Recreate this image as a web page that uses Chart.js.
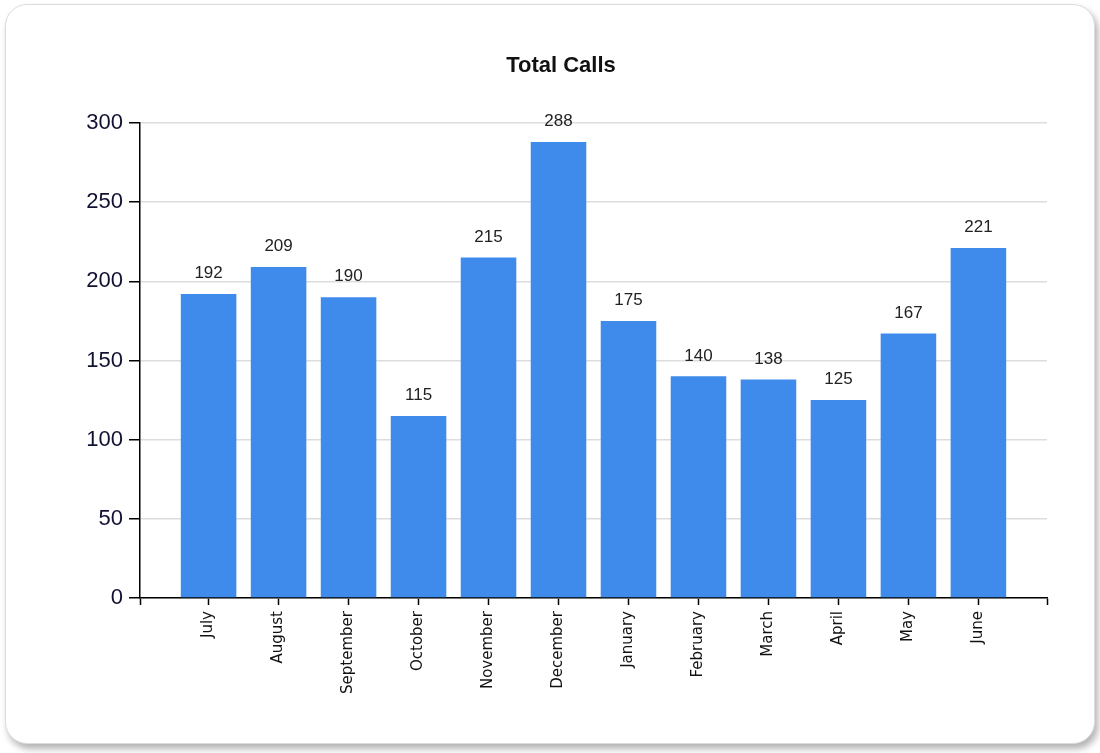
<!DOCTYPE html>
<html>
<head>
<meta charset="utf-8">
<title>Total Calls</title>
<script src="https://cdn.jsdelivr.net/npm/chart.js@4.4.1/dist/chart.umd.min.js"></script>
<style>
    body { margin: 0; background: #ffffff; }
    #wrap { position: relative; width: 1100px; height: 753px; overflow: hidden; }
    #card {
        position: absolute; left: 5px; top: 4px; width: 1088px; height: 738px;
        border: 1px solid #dcdcdc; border-radius: 22px; background: #ffffff;
        box-shadow: 3px 5px 7px rgba(0, 0, 0, 0.3);
    }
    #callsChart { position: absolute; left: 0; top: 0; }
</style>
</head>
<body>
<div id="wrap">
    <div id="card"></div>
    <canvas id="callsChart" width="1100" height="753"></canvas>
</div>
<script>
// Months of the year (July to June)
let months = [
    "July", "August", "September", "October", "November", "December",
    "January", "February", "March", "April", "May", "June"
];

// Number of calls per month
let calls = [192, 209, 190, 115, 215, 288, 175, 140, 138, 125, 167, 221];

// Y axis ticks
let yTicks = [0, 50, 100, 150, 200, 250, 300];

const chartTitle = 'Total Calls';
const barColor = '#3f8beb';

// Plugin that writes the value above each bar, and the title
const valueLabels = {
    id: 'valueLabels',
    afterDatasetsDraw(chart) {
        const ctx = chart.ctx;
        const meta = chart.getDatasetMeta(0);
        ctx.save();
        ctx.font = '17px "Liberation Sans", Arial, sans-serif';
        ctx.fillStyle = '#222222';
        ctx.textAlign = 'center';
        ctx.textBaseline = 'bottom';
        meta.data.forEach(function(bar, i) {
            ctx.fillText(calls[i], bar.x, bar.y - 12);
        });

        // Title (slightly left of the plot centre, like the original)
        ctx.font = 'bold 22px "Liberation Sans", Arial, sans-serif';
        ctx.fillStyle = '#111111';
        ctx.textBaseline = 'middle';
        ctx.fillText(chartTitle, 561, 66);
        ctx.restore();
    }
};

function createBarChart() {
    const ctx = document.getElementById('callsChart').getContext('2d');

    window.callsChart = new Chart(ctx, {
        type: 'bar',
        data: {
            datasets: [{
                label: chartTitle,
                data: months.map(function(m, i) { return { x: i, y: calls[i] }; }),
                backgroundColor: barColor,
                borderWidth: 0,
                barPercentage: 0.81,
                categoryPercentage: 1
            }]
        },
        options: {
            responsive: false,
            animation: false,
            devicePixelRatio: 1,
            layout: { padding: { left: 0, right: 53, top: 123, bottom: 0 } },
            plugins: {
                legend: { display: false },
                tooltip: { enabled: false },
                title: { display: false }
            },
            scales: {
                x: {
                    type: 'linear',
                    min: -0.98,
                    max: 11.98,
                    offset: false,
                    afterFit: function(scale) { scale.height = 155; },
                    border: { display: true, color: '#000000', width: 1.5 },
                    grid: {
                        display: true,
                        offset: false,
                        drawOnChartArea: false,
                        drawTicks: true,
                        tickLength: 7,
                        tickColor: '#000000',
                        tickWidth: 1.5
                    },
                    ticks: {
                        stepSize: 1,
                        includeBounds: true,
                        autoSkip: false,
                        maxTicksLimit: 30,
                        minRotation: 90,
                        maxRotation: 90,
                        padding: 6,
                        color: '#111111',
                        font: { family: '"DejaVu Sans", sans-serif', size: 15 },
                        callback: function(value) {
                            return Number.isInteger(value) ? months[value] : '';
                        }
                    }
                },
                y: {
                    min: yTicks[0],
                    max: yTicks[yTicks.length - 1],
                    afterFit: function(scale) { scale.width = 140; },
                    border: { display: true, color: '#000000', width: 1.5 },
                    grid: {
                        color: '#dddddd',
                        lineWidth: 1.5,
                        tickLength: 11,
                        tickColor: '#000000',
                        tickWidth: 1.5
                    },
                    ticks: {
                        stepSize: 50,
                        padding: 6,
                        color: '#111133',
                        font: { family: '"Liberation Sans", Arial, sans-serif', size: 22 }
                    }
                }
            }
        },
        plugins: [valueLabels]
    });
}

window.onload = function() {
    createBarChart();
};
</script>
</body>
</html>
